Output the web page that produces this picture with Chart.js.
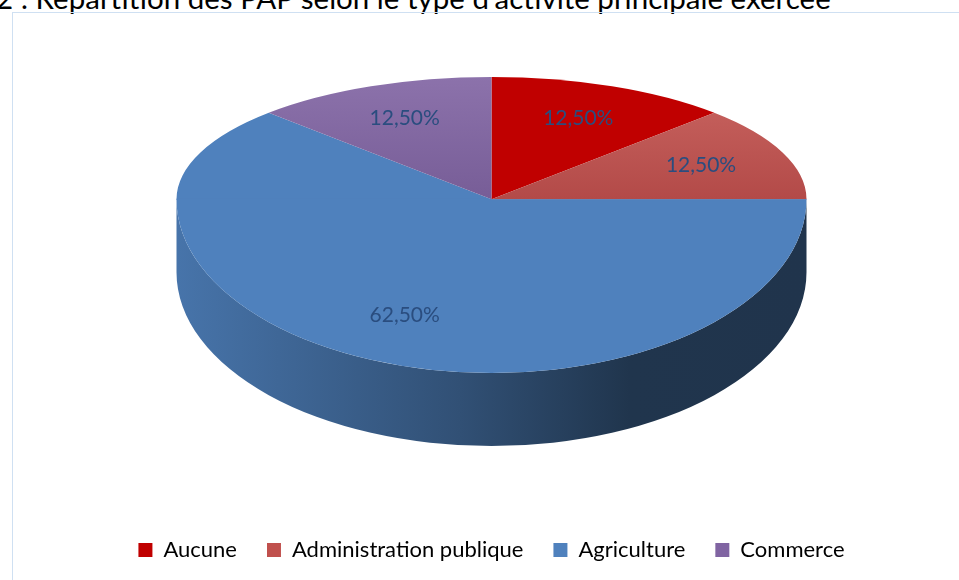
<!DOCTYPE html>
<html lang="fr">
<head>
<meta charset="utf-8">
<script src="https://cdn.jsdelivr.net/npm/chart.js@4.4.1/dist/chart.umd.min.js"></script>
<style>
  html, body { margin: 0; padding: 0; background: #fff; }
  body { width: 959px; height: 580px; position: relative; overflow: hidden; font-family: Lato, sans-serif; }
  #title { position: absolute; left: -4px; top: -17px; font-size: 29.5px; line-height: 30px; color: #000; white-space: nowrap; }
  #frame { position: absolute; left: 12px; top: 12px; right: -4px; bottom: -4px;
           border-left: 1px solid #cfe0f2; border-top: 1px solid #cfe0f2; }
  #wrap { position: absolute; left: 0; top: 0; width: 959px; height: 580px; }
</style>
</head>
<body>
<div id="title">2 : Répartition des PAP selon le type d'activité principale exercée</div>
<div id="frame"></div>
<div id="wrap"><canvas id="pie"></canvas></div>
<script>
(() => {
  'use strict';

  // data
  const categories = ['Aucune', 'Administration publique', 'Agriculture', 'Commerce'];
  const shares     = [12.5, 12.5, 62.5, 12.5];

  const colors    = ['#c00000', '#c0504d', '#4f81bd', '#8064a2'];
  const topColors = ['#c00000', '#ca6662', '#4f81bd', '#8c72ab']; // lighter rim on the small slices

  const fmt = v => v.toFixed(2).replace('.', ',') + '%';

  function shade(hex, f) {
    const n = parseInt(hex.slice(1), 16);
    const c = [(n >> 16) & 255, (n >> 8) & 255, n & 255].map(v => Math.round(v * f));
    return `rgb(${c[0]},${c[1]},${c[2]})`;
  }

  // fake 3D with a bit of perspective: the far half is squashed more than the near half,
  // and the front wall is painted under the near half
  const pie3d = {
    id: 'pie3d',
    face(chart, opts, half) {
      const arc = chart.getDatasetMeta(0).data[0];
      const { x, y, outerRadius: r } = arc;
      const cy = opts.top + r * opts.farTilt;
      const k = half === 'far' ? opts.farTilt : opts.nearTilt;
      const ctx = chart.ctx;
      ctx.save();
      ctx.beginPath();
      if (half === 'far') ctx.rect(0, 0, chart.width, cy + 0.5);
      else ctx.rect(0, cy - 0.5, chart.width, chart.height);
      ctx.clip();
      ctx.translate(x, cy);
      ctx.scale(1, k);
      ctx.translate(-x, -y);
    },
    beforeDatasetsDraw(chart, args, opts) {
      const arcs = chart.getDatasetMeta(0).data;
      if (!arcs.length) return;
      const { x, outerRadius: r } = arcs[0];
      const k = opts.nearTilt, d = opts.depth;
      const cy = opts.top + r * opts.farTilt;
      const ctx = chart.ctx;

      arcs.forEach((arc, i) => {
        for (let n = -1; n <= 1; n++) {
          const s = Math.max(arc.startAngle + n * 2 * Math.PI, 0);
          const e = Math.min(arc.endAngle + n * 2 * Math.PI, Math.PI);
          if (e <= s) continue;
          const g = ctx.createLinearGradient(x - r, 0, x + r, 0);
          g.addColorStop(0, shade(colors[i], 0.9));
          g.addColorStop(0.45, shade(colors[i], 0.62));
          g.addColorStop(0.72, shade(colors[i], 0.41));
          g.addColorStop(1, shade(colors[i], 0.4));
          ctx.beginPath();
          ctx.ellipse(x, cy, r, r * k, 0, s, e);
          ctx.ellipse(x, cy + d, r, r * k, 0, e, s, true);
          ctx.closePath();
          ctx.fillStyle = g;
          ctx.fill();
        }
      });

      this.face(chart, opts, 'far');
    },
    afterDatasetsDraw(chart, args, opts) {
      const ctx = chart.ctx;
      const meta = chart.getDatasetMeta(0);
      ctx.restore();
      if (!meta.data.length) return;

      // second pass of the library's own arc drawing for the near half
      this.face(chart, opts, 'near');
      meta.controller.draw();
      ctx.restore();

      const { x, outerRadius: r } = meta.data[0];
      const cy = opts.top + r * opts.farTilt;
      ctx.save();
      ctx.font = opts.font;
      ctx.fillStyle = opts.color;
      ctx.textAlign = 'center';
      ctx.textBaseline = 'middle';
      meta.data.forEach((arc, i) => {
        const mid = (arc.startAngle + arc.endAngle) / 2;
        const sin = Math.sin(mid);
        const k = sin < 0 ? opts.farTilt : opts.nearTilt;
        const lx = x + Math.cos(mid) * r * opts.labelRadius;
        const ly = cy + sin * r * k * opts.labelRadius;
        ctx.fillText(fmt(shares[i]), lx, ly);
      });
      ctx.restore();
    }
  };

  const canvas = document.getElementById('pie');

  new Chart(canvas.getContext('2d'), {
    type: 'pie',
    data: {
      labels: categories,
      datasets: [{
        data: shares,
        radius: 315,
        clip: false,
        borderWidth: 0,
        backgroundColor(c) {
          const i = c.dataIndex;
          const area = c.chart.chartArea;
          if (!area || colors[i] === topColors[i]) return colors[i];
          const cy = (area.top + area.bottom) / 2;
          const g = c.chart.ctx.createLinearGradient(0, cy - 315, 0, cy);
          g.addColorStop(0, topColors[i]);
          g.addColorStop(1, shade(colors[i], 0.93));
          return g;
        }
      }]
    },
    options: {
      responsive: true,
      maintainAspectRatio: false,
      animation: false,
      layout: { padding: { left: 24, right: 0, top: 0, bottom: 9 } },
      plugins: {
        tooltip: { enabled: false },
        pie3d: {
          farTilt: 0.388, nearTilt: 0.552, depth: 73, top: 77,
          labelRadius: 0.72,
          font: '21px Lato, sans-serif', color: '#2a4d7f'
        },
        legend: {
          position: 'bottom',
          labels: {
            color: '#1f497d',
            font: { family: 'Lato, sans-serif', size: 22 },
            boxWidth: 14,
            boxHeight: 14,
            padding: 30,
            generateLabels(chart) {
              return chart.data.labels.map((lbl, i) => ({
                text: lbl,
                fillStyle: colors[i],
                strokeStyle: colors[i],
                lineWidth: 0,
                hidden: !chart.getDataVisibility(i),
                index: i
              }));
            }
          }
        }
      }
    },
    plugins: [pie3d]
  });
})();
</script>
</body>
</html>
